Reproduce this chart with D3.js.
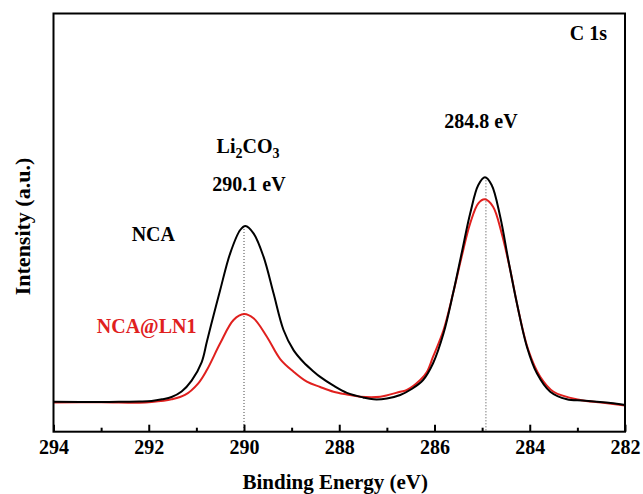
<!DOCTYPE html>
<html>
<head>
<meta charset="utf-8">
<script src="https://cdn.jsdelivr.net/npm/d3@7"></script>
<style>
  body { margin: 0; background: #fff; }
  text { font-family: 'Liberation Serif', 'Times New Roman', serif; font-weight: bold; }
</style>
</head>
<body>
<div id="chart"></div>
<script>
// C 1s spectra (intensity in arbitrary units)
var ncaEnergy = [294.0, 293.0, 292.5, 292.2, 291.94, 291.72, 291.52, 291.31, 291.10, 290.89, 290.78, 290.64,
  290.50, 290.29, 290.08, 289.97, 289.80, 289.59, 289.38, 289.17, 288.96, 288.75, 288.54, 288.40, 288.12,
  287.84, 287.50, 287.28, 287.00, 286.72, 286.48, 286.24, 286.03, 285.81, 285.61, 285.43, 285.25, 285.08,
  284.94, 284.80, 284.62, 284.45, 284.27, 284.06, 283.85, 283.57, 283.22, 282.90, 282.59, 282.30, 282.0]
var ncaIntensity = [7.17, 7.10, 7.17, 7.22, 7.34, 7.75, 8.3, 9.6, 12.2, 16.6, 21.5, 27.8,
  33.88, 42.66, 48.23, 49.19, 47.44, 41.85, 33.09, 24.32, 19.5, 16.6, 14.4, 13.1, 11.0,
  9.3, 8.2, 7.75, 7.94, 8.78, 10.21, 12.36, 16.36, 23.53, 33.09, 42.66, 52.22, 58.99,
  60.83, 58.99, 51.41, 41.06, 30.70, 20.33, 13.96, 9.56, 7.75, 7.46, 7.17, 6.86, 6.38]

var lnEnergy = [294.0, 293.0, 292.2, 291.94, 291.52, 291.24, 290.96, 290.78, 290.50, 290.22, 290.0, 289.80,
  289.52, 289.24, 288.96, 288.68, 288.40, 288.12, 287.84, 287.56, 287.14, 286.72, 286.58, 286.30, 286.16,
  286.03, 285.81, 285.61, 285.43, 285.25, 285.08, 284.94, 284.77, 284.59, 284.41, 284.24, 284.03, 283.78,
  283.50, 282.94, 282.50, 282.0]
var lnIntensity = [6.98, 7.03, 6.93, 7.10, 7.75, 8.78, 11.57, 14.75, 21.14, 26.71, 28.14, 27.12,
  22.72, 17.38, 14.35, 11.96, 10.69, 9.56, 8.90, 8.37, 8.37, 9.56, 9.97, 12.36, 14.28,
  17.93, 24.32, 33.09, 41.85, 49.83, 54.62, 55.57, 53.80, 47.44, 38.67, 29.10, 19.54, 13.15,
  9.56, 7.58, 6.98, 6.26]

var majorTicks = [294, 292, 290, 288, 286, 284, 282]
var minorTicks = [293, 291, 289, 287, 285, 283]
var peakEnergies = [290.0, 284.92]

var seriesNames = ['NCA', 'NCA@LN1']
var seriesColors = ['#000000', '#e0201e']

var margin = { top: 13.5, right: 18, bottom: 62.3, left: 53.5 }
var width = 643 - margin.left - margin.right
var height = 494 - margin.top - margin.bottom

var svg = d3.select('#chart')
  .append('svg')
  .attr('width', 643)
  .attr('height', 494)
  .append('g')
  .attr('transform', 'translate(' + margin.left + ',' + margin.top + ')')

var xScale = d3.scaleLinear()
  .domain([294, 282])
  .range([0, width])

var yScale = d3.scaleLinear()
  .domain([0, 100])
  .range([height, 0])

var series = [
  { name: seriesNames[0], color: seriesColors[0], pts: d3.zip(ncaEnergy, ncaIntensity) },
  { name: seriesNames[1], color: seriesColors[1], pts: d3.zip(lnEnergy, lnIntensity) }
]

// dotted peak markers
peakEnergies.forEach(function (e) {
  var near = series[0].pts.filter(function (p) { return Math.abs(p[0] - e) < 0.3 })
  var top = d3.max(near, function (p) { return p[1] })
  svg.append('line')
    .attr('x1', xScale(e)).attr('x2', xScale(e))
    .attr('y1', yScale(top)).attr('y2', height)
    .attr('stroke', '#444')
    .attr('stroke-width', 1)
    .attr('stroke-dasharray', '1,2')
})

var line = d3.line()
  .x(function (d) { return xScale(d[0]) })
  .y(function (d) { return yScale(d[1]) })
  .curve(d3.curveCatmullRom.alpha(0.5))

// red first so black sits on top
svg.selectAll('.spec')
  .data(series.slice().reverse())
  .enter().append('path')
  .attr('class', 'spec')
  .attr('d', function (d) { return line(d.pts) })
  .attr('fill', 'none')
  .attr('stroke', function (d) { return d.color })
  .attr('stroke-width', 2)

// ticks pointing inwards
var xAxis = d3.axisBottom(xScale)
  .tickValues(majorTicks)
  .tickSize(-7)
  .tickPadding(8)
  .tickFormat(d3.format('d'))

var xAxisG = svg.append('g')
  .attr('class', 'axis x-axis')
  .attr('transform', 'translate(0,' + height + ')')
  .call(xAxis)
xAxisG.select('.domain').remove()
xAxisG.selectAll('line').attr('stroke-width', 2)
xAxisG.selectAll('text')
  .attr('font-family', "'Liberation Serif', serif")
  .attr('font-size', 20)
  .attr('font-weight', 'bold')
  .attr('fill', '#000')

var minorAxis = d3.axisBottom(xScale)
  .tickValues(minorTicks)
  .tickSize(-4)
  .tickFormat('')
var minorG = svg.append('g')
  .attr('transform', 'translate(0,' + height + ')')
  .call(minorAxis)
minorG.select('.domain').remove()
minorG.selectAll('line').attr('stroke-width', 2)

// frame
svg.append('rect')
  .attr('x', 0).attr('y', 0)
  .attr('width', width).attr('height', height)
  .attr('fill', 'none')
  .attr('stroke', '#000')
  .attr('stroke-width', 2)

// axis titles
svg.append('text')
  .attr('x', width / 2 - 4)
  .attr('y', height + 57)
  .attr('text-anchor', 'middle')
  .attr('font-size', 21)
  .text('Binding Energy (eV)')

svg.append('text')
  .attr('transform', 'translate(' + (-23.5) + ',' + 213 + ') rotate(-90)')
  .attr('text-anchor', 'middle')
  .attr('font-size', 22)
  .text('Intensity (a.u.)')

// annotations
var li = svg.append('text')
  .attr('x', xScale(peakEnergies[0]) + 4)
  .attr('y', 139.5)
  .attr('text-anchor', 'middle')
  .attr('font-size', 20)
li.append('tspan').text('Li')
li.append('tspan').attr('font-size', 14).attr('dy', 5).text('2')
li.append('tspan').attr('dy', -5).text('CO')
li.append('tspan').attr('font-size', 14).attr('dy', 5).text('3')

svg.append('text')
  .attr('x', xScale(peakEnergies[0]) + 5)
  .attr('y', 177)
  .attr('text-anchor', 'middle')
  .attr('font-size', 20)
  .text('290.1 eV')

svg.append('text')
  .attr('x', xScale(peakEnergies[1]) - 5)
  .attr('y', 114.5)
  .attr('text-anchor', 'middle')
  .attr('font-size', 20)
  .text('284.8 eV')

svg.append('text')
  .attr('x', width - 18)
  .attr('y', 26.5)
  .attr('text-anchor', 'end')
  .attr('font-size', 20)
  .text('C 1s')

svg.append('text')
  .attr('x', 121.5)
  .attr('y', 227.5)
  .attr('text-anchor', 'end')
  .attr('font-size', 20)
  .attr('fill', seriesColors[0])
  .text(seriesNames[0])

svg.append('text')
  .attr('x', 143)
  .attr('y', 319)
  .attr('text-anchor', 'end')
  .attr('font-size', 20)
  .attr('fill', seriesColors[1])
  .text(seriesNames[1])
</script>
</body>
</html>
